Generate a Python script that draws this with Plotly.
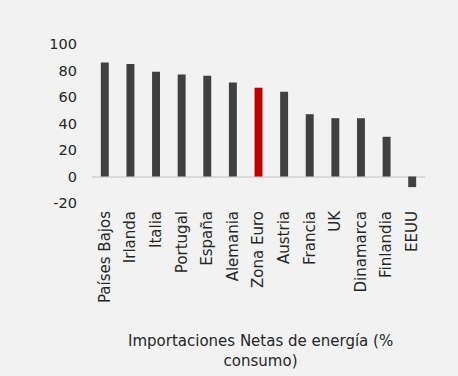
import plotly.graph_objects as go

categories = ["Países Bajos", "Irlanda", "Italia", "Portugal", "España", "Alemania",
              "Zona Euro", "Austria", "Francia", "UK", "Dinamarca", "Finlandia", "EEUU"]
values = [86, 85, 79, 77, 76, 71, 67, 64, 47, 44, 44, 30, -8]
highlight = "Zona Euro"
title_text = "Importaciones Netas de energía (%<br>consumo)"
y_ticks = [-20, 0, 20, 40, 60, 80, 100]
y_ticktext = ["-20", "0", "20", "40", "60", "80", "100"]

colors = ["#c00000" if c == highlight else "#404040" for c in categories]

fig = go.Figure(go.Bar(x=categories, y=values, marker_color=colors,
                       marker_line_width=0, width=0.31))

font = "DejaVu Sans, sans-serif"
fig.update_layout(
    width=458, height=376,
    margin=dict(l=92, r=33, t=44, b=173),
    paper_bgcolor="#f2f2f2", plot_bgcolor="#f2f2f2",
    font=dict(family=font, size=14, color="#262626"),
    showlegend=False,
    xaxis=dict(tickangle=-90, showgrid=False, showline=False, ticks="",
               tickfont=dict(size=15), zeroline=False, ticklabelstandoff=4),
    yaxis=dict(range=[-20, 100], tickvals=y_ticks, ticktext=y_ticktext,
               showgrid=False, ticklabelstandoff=14,
               zeroline=True, zerolinecolor="#d9d9d9", zerolinewidth=2,
               showline=False, ticks="", tickfont=dict(size=14.5)),
    annotations=[dict(text=title_text, xref="paper", yref="paper",
                      x=0.505, y=-0.93, showarrow=False,
                      font=dict(size=15, color="#262626"), xanchor="center",
                      yanchor="middle")],
)
fig.write_html("out.html")
